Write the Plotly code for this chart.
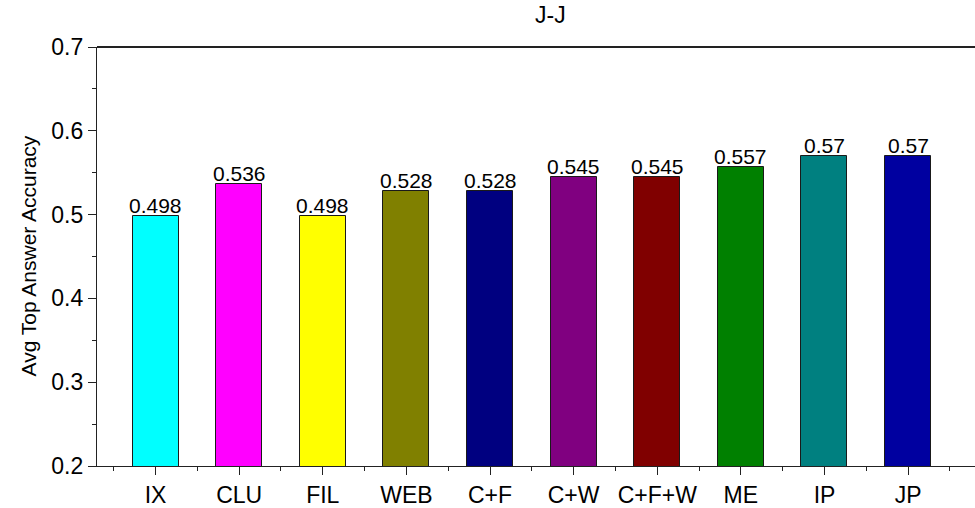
import plotly.graph_objects as go

categories = ["IX", "CLU", "FIL", "WEB", "C+F", "C+W", "C+F+W", "ME", "IP", "JP"]
values = [0.498, 0.536, 0.498, 0.528, 0.528, 0.545, 0.545, 0.557, 0.57, 0.57]
labels = ["0.498", "0.536", "0.498", "0.528", "0.528", "0.545", "0.545", "0.557", "0.57", "0.57"]
colors = ["#00FFFF", "#FF00FF", "#FFFF00", "#808000", "#000080",
          "#800080", "#800000", "#008000", "#008080", "#0000A0"]
yticks = [0.2, 0.3, 0.4, 0.5, 0.6, 0.7]

FONT = "Arial, Liberation Sans, sans-serif"
positions = list(range(len(categories)))

fig = go.Figure(go.Bar(
    x=positions, y=values, width=0.55,
    marker=dict(color=colors, line=dict(color="#1a1a1a", width=1)),
    hoverinfo="skip",
))

# value labels just above each bar
for p, v, t in zip(positions, values, labels):
    fig.add_annotation(x=p, y=v, text=t, showarrow=False, yanchor="bottom",
                       xanchor="center", yshift=-3,
                       font=dict(family=FONT, size=21, color="black"))

fig.update_layout(
    width=975, height=508,
    margin=dict(l=97, r=0, t=47, b=38),
    plot_bgcolor="white", paper_bgcolor="white",
    showlegend=False,
    font=dict(family=FONT, color="black"),
    xaxis=dict(
        range=[-0.7, 9.8], tickvals=positions, ticktext=categories,
        ticks="outside", ticklen=8, tickwidth=1.3, tickcolor="#222",
        showline=True, linecolor="#222", linewidth=1.3,
        showgrid=False, zeroline=False,
        tickfont=dict(family=FONT, size=23, color="black"),
        minor=dict(tick0=0.5, dtick=1, ticks="outside", ticklen=4,
                   tickwidth=1, tickcolor="#222", showgrid=False),
    ),
    yaxis=dict(
        range=[0.2, 0.7], tickvals=yticks, tickformat=".1f",
        ticks="outside", ticklen=8, tickwidth=1.3, tickcolor="#222",
        showline=True, linecolor="#222", linewidth=1.3,
        showgrid=False, zeroline=False,
        tickfont=dict(family=FONT, size=23, color="black"),
        minor=dict(tick0=0.25, dtick=0.1, ticks="outside", ticklen=4,
                   tickwidth=1, tickcolor="#222", showgrid=False),
    ),
    bargap=0,
)

fig.add_shape(type="line", xref="paper", yref="paper", x0=0, x1=1, y0=1, y1=1,
              line=dict(color="#222", width=2))

fig.add_annotation(text="J-J", xref="paper", yref="paper", x=0.516, y=1,
                   yshift=32, xanchor="center", yanchor="middle", showarrow=False,
                   font=dict(family=FONT, size=23, color="black"))
fig.add_annotation(text="Avg Top Answer Accuracy", xref="paper", yref="paper",
                   x=0, y=0.5, xshift=-69, xanchor="center", yanchor="middle",
                   textangle=-90, showarrow=False,
                   font=dict(family=FONT, size=21, color="black"))

fig.write_html("out.html", config={"displayModeBar": False},
               post_script="document.body.style.margin='0';")
